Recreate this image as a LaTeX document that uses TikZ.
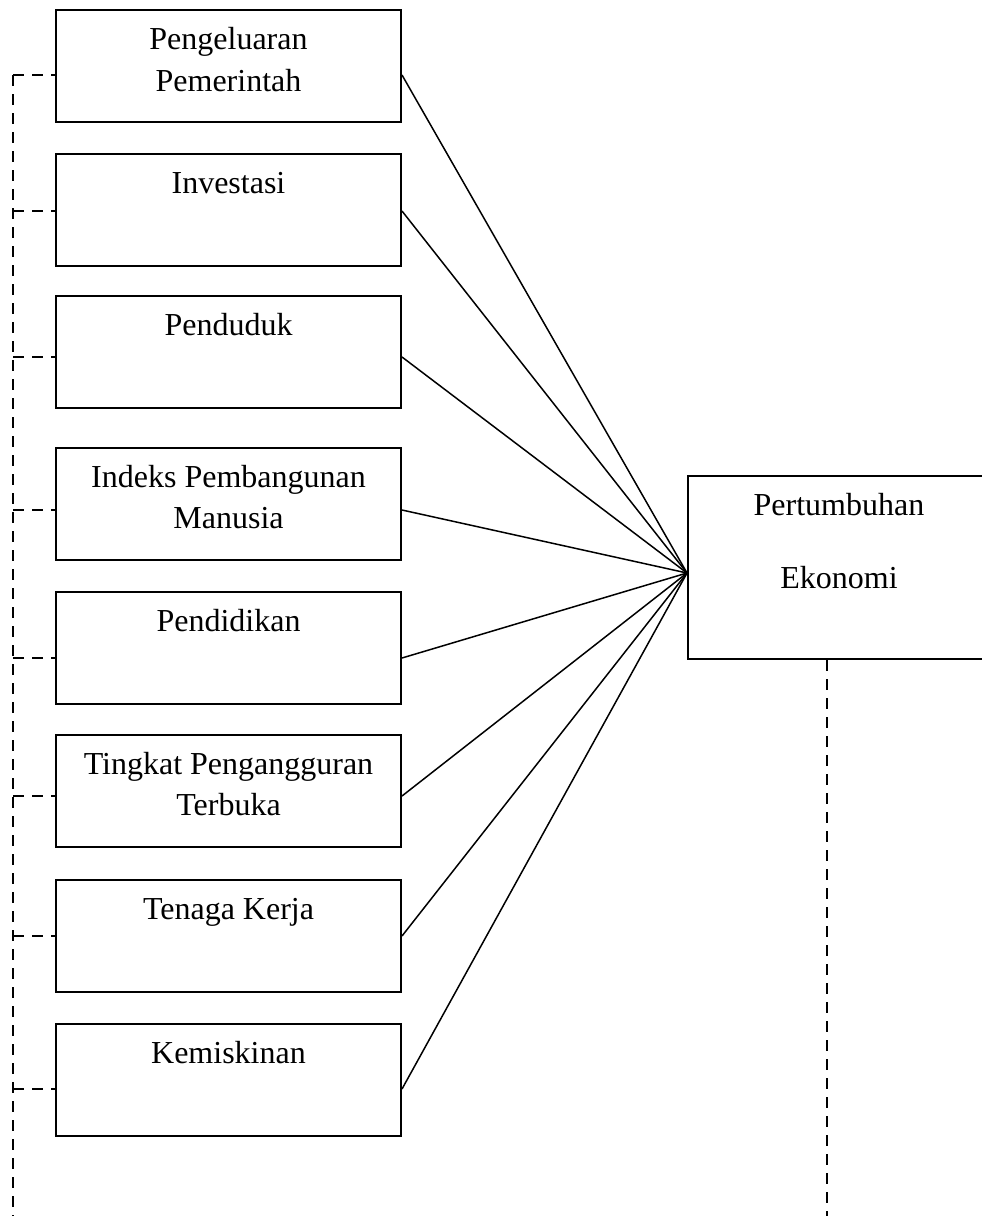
\documentclass[tikz,border=0pt]{standalone}
\usepackage{fontspec}
\setmainfont{Liberation Serif}
\usetikzlibrary{calc}
\begin{document}
\begin{tikzpicture}[x=1pt,y=-1pt,
  box/.style={draw, line width=2pt, rectangle, anchor=north west, inner sep=0pt,
    minimum width=345pt, minimum height=112pt},
  lbl/.style={anchor=base, align=center, inner sep=0pt,
    font=\fontsize{32}{41.5}\selectfont},
  link/.style={line width=1.5pt},
  dashlink/.style={line width=2.4pt, dash pattern=on 10.5pt off 8.5pt}]
\useasboundingbox (0,0) rectangle (982,1216);
\clip (0,0) rectangle (982,1216);

% left boxes
\node[box] (b1) at (55,9) {};
\node[box] (b2) at (55,153) {};
\node[box] (b3) at (55,295) {};
\node[box] (b4) at (55,447) {};
\node[box] (b5) at (55,591) {};
\node[box] (b6) at (55,734) {};
\node[box] (b7) at (55,879) {};
\node[box] (b8) at (55,1023) {};
% right box
\node[box, minimum width=302pt, minimum height=183pt] (R) at (687,475) {};

% labels (base anchor = baseline of the last line)
\node[lbl] (t1) at ($(b1.north)+(0,82)$) {Pengeluaran\\Pemerintah};
\node[lbl] (t2) at ($(b2.north)+(0,40.5)$) {Investasi};
\node[lbl] (t3) at ($(b3.north)+(0,40.5)$) {Penduduk};
\node[lbl] (t4) at ($(b4.north)+(0,81.5)$) {Indeks Pembangunan\\Manusia};
\node[lbl] (t5) at ($(b5.north)+(0,40.5)$) {Pendidikan};
\node[lbl] (t6) at ($(b6.north)+(0,81.5)$) {Tingkat Pengangguran\\Terbuka};
\node[lbl] (t7) at ($(b7.north)+(0,40.5)$) {Tenaga Kerja};
\node[lbl] (t8) at ($(b8.north)+(0,40.5)$) {Kemiskinan};
\node[lbl] (tR) at ($(R.north)+(0,113)$) {Pertumbuhan\\[31.5pt]Ekonomi};

% convergence point
\coordinate (hub) at ($(R.north west)+(0,98)$);

% solid links
\draw[link] ($(b1.north east)+(0,66)$) -- (hub);
\draw[link] ($(b2.north east)+(0,58)$) -- (hub);
\draw[link] ($(b3.north east)+(0,62)$) -- (hub);
\draw[link] ($(b4.north east)+(0,63)$) -- (hub);
\draw[link] ($(b5.north east)+(0,67)$) -- (hub);
\draw[link] ($(b6.north east)+(0,62)$) -- (hub);
\draw[link] ($(b7.north east)+(0,57)$) -- (hub);
\draw[link] ($(b8.north east)+(0,66)$) -- (hub);

% left dashed spine
\coordinate (spineTop) at (13,75);
\coordinate (spineBot) at (13,1216);
\draw[dashlink] (spineTop) -- (spineBot);
\draw[dashlink] (spineTop) -- ($(b1.north west)+(0,66)$);
\draw[dashlink] (13,211) -- ($(b2.north west)+(0,58)$);
\draw[dashlink] (13,357) -- ($(b3.north west)+(0,62)$);
\draw[dashlink] (13,510) -- ($(b4.north west)+(0,63)$);
\draw[dashlink] (13,658) -- ($(b5.north west)+(0,67)$);
\draw[dashlink] (13,796) -- ($(b6.north west)+(0,62)$);
\draw[dashlink] (13,936) -- ($(b7.north west)+(0,57)$);
\draw[dashlink] (13,1089) -- ($(b8.north west)+(0,66)$);

% right dashed line
\coordinate (rBot) at (827,1216);
\draw[dashlink] ($(R.south west)+(140,0)$) -- (rBot);
\end{tikzpicture}
\end{document}
